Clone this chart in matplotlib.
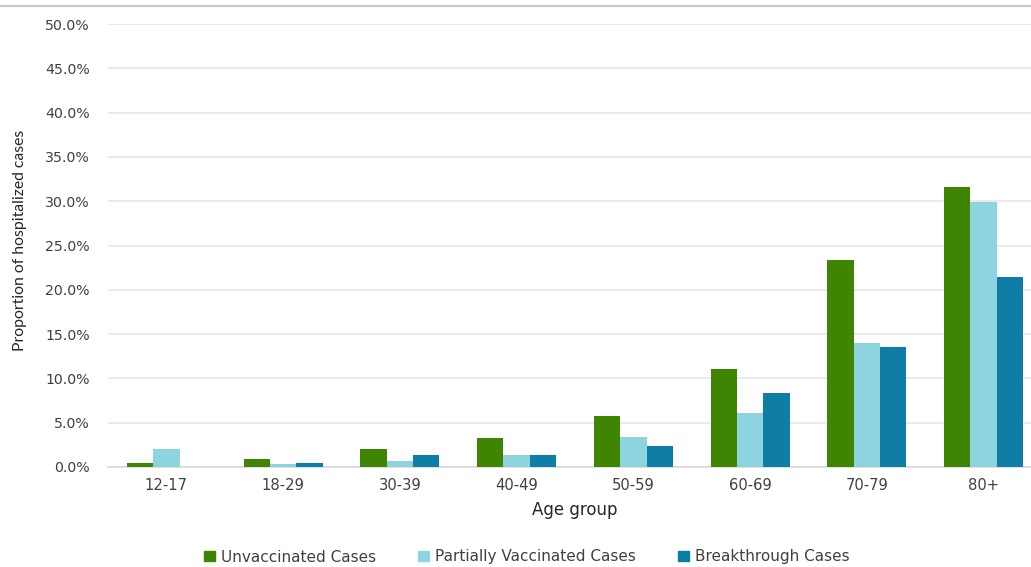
import matplotlib
matplotlib.use("Agg")
import matplotlib.pyplot as plt
import numpy as np
from matplotlib.lines import Line2D
from matplotlib.ticker import FuncFormatter, MultipleLocator

age_groups = ["12-17", "18-29", "30-39", "40-49", "50-59", "60-69", "70-79", "80+"]
unvaccinated = [0.4, 0.85, 2.0, 3.25, 5.75, 11.05, 23.35, 31.6]
partially_vaccinated = [2.0, 0.3, 0.65, 1.4, 3.35, 6.05, 13.95, 29.95]
breakthrough = [0.0, 0.5, 1.3, 1.4, 2.35, 8.3, 13.5, 21.4]

series_names = ["Unvaccinated Cases", "Partially Vaccinated Cases", "Breakthrough Cases"]
colors = ["#408404", "#8dd4e0", "#0f7ea6"]

plt.rcParams["font.family"] = ["DejaVu Sans"]

fig = plt.figure(figsize=(10.31, 5.67), dpi=100)
ax = fig.add_axes([108 / 1031, 100 / 567, 934 / 1031, 443 / 567])

x = np.arange(len(age_groups))
w = 0.225
for i, (vals, c) in enumerate(zip([unvaccinated, partially_vaccinated, breakthrough], colors)):
    ax.bar(x + (i - 1) * w, vals, width=w, color=c, zorder=3)

ax.set_xlim(-0.5, len(age_groups) - 0.5)
ax.set_ylim(0, 50)
ax.yaxis.set_major_locator(MultipleLocator(5))
ax.yaxis.set_major_formatter(FuncFormatter(lambda v, p: f"{v:.1f}%"))
ax.grid(axis="y", color="#e6e6e6", linewidth=1.2, zorder=0)
for s in ["top", "right", "left"]:
    ax.spines[s].set_visible(False)
ax.spines["bottom"].set_color("#d9d9d9")
ax.spines["bottom"].set_linewidth(1.2)

ax.set_xticks(x)
ax.set_xticklabels(age_groups)
ax.tick_params(axis="both", length=0, labelcolor="#404040")
ax.tick_params(axis="y", labelsize=10.2, pad=13)
ax.tick_params(axis="x", labelsize=10.6, pad=8)

ax.set_xlabel("Age group", fontsize=12, color="#262626", labelpad=6)
fig.text(20 / 1031, 1 - 240 / 567, "Proportion of hospitalized cases", rotation=90,
         ha="center", va="center", fontsize=11.3, color="#262626",
         family=["Lato", "DejaVu Sans"])

# thin frame line across the top of the chart area
fig.add_artist(Line2D([0, 1], [1 - 6 / 567, 1 - 6 / 567], color="#c8c8c8", linewidth=1.5))

handles = [plt.Rectangle((0, 0), 1, 1, color=c) for c in colors]
fig.legend(handles, series_names, loc="center", bbox_to_anchor=(527 / 1031, 1 - 557 / 567),
           ncol=3, frameon=False, fontsize=11, handlelength=0.7, handleheight=0.6,
           handletextpad=0.4, columnspacing=2.75, labelcolor="#404040")

fig.savefig("out.png", dpi=100)
